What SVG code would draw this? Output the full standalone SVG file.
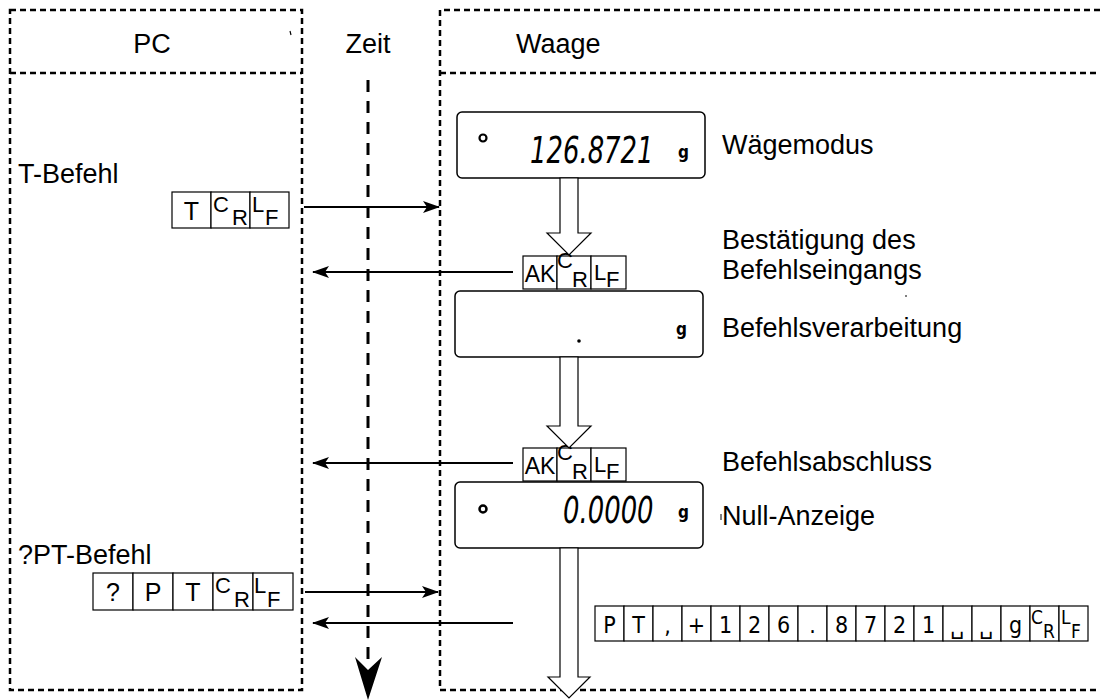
<svg xmlns="http://www.w3.org/2000/svg" width="1100" height="700" viewBox="0 0 1100 700">
<defs>
<style>
.frame{fill:none;stroke:#000;stroke-width:2.5;stroke-dasharray:6 4}
.axis{fill:none;stroke:#000;stroke-width:3;stroke-dasharray:12 9}
.lbl{font-family:"Liberation Sans",Arial,sans-serif;font-size:27px;fill:#000}
.cell{fill:#fff;stroke:#000;stroke-width:1.2}
.ct{font-family:"Liberation Sans",Arial,sans-serif;font-size:25px;fill:#000}
.cs{font-family:"Liberation Sans",Arial,sans-serif;font-size:22px;fill:#000}
.dt{font-family:"Liberation Sans Narrow","DejaVu Sans Condensed","Liberation Sans",sans-serif;font-size:23px;fill:#000;text-anchor:middle}
.ds{font-family:"Liberation Sans Narrow","DejaVu Sans Condensed","Liberation Sans",sans-serif;font-size:19px;fill:#000}
.sp{font-family:"DejaVu Sans",sans-serif;font-size:22px;fill:#000;text-anchor:middle}
.disp{fill:#fff;stroke:#000;stroke-width:1.5}
.seg{font-family:"DejaVu Sans",sans-serif;font-weight:200;font-style:italic;font-size:37px;fill:#000}
.gg{font-family:"DejaVu Sans Condensed","DejaVu Sans",sans-serif;font-weight:bold;font-size:17px;fill:#000}
.hollow{fill:#fff;stroke:#000;stroke-width:1.2}
.conn{fill:none;stroke:#000;stroke-width:2}
</style>
<marker id="ah" markerWidth="18" markerHeight="12" refX="16" refY="6" orient="auto" markerUnits="userSpaceOnUse">
<path d="M0,0 L17,6 L0,12 L4,6 Z" fill="#000"/>
</marker>
</defs>
<rect width="1100" height="700" fill="#fff"/>

<g id="pc-lane">
<rect class="frame" x="10" y="10" width="292" height="680"/>
<line class="frame" x1="10" y1="73" x2="302" y2="73"/>
<text class="lbl" x="152" y="53" text-anchor="middle">PC</text>
<line x1="290" y1="31" x2="291" y2="35" stroke="#000" stroke-width="1.2"/>
</g>

<g id="waage-lane">
<path class="frame" d="M1100,10 H440 V690 H1100"/>
<line class="frame" x1="440" y1="73" x2="1100" y2="73"/>
<text class="lbl" x="516" y="53">Waage</text>
</g>

<g id="time-axis">
<text class="lbl" x="368" y="53" text-anchor="middle">Zeit</text>
<line class="axis" x1="368" y1="80" x2="368" y2="668"/>
<path d="M355,657 L368,700 L382,657 L368,670 Z" fill="#000"/>
</g>

<g id="cmd-t">
<text class="lbl" x="18" y="183">T-Befehl</text>
<rect class="cell" x="172" y="192" width="39" height="36"/>
<rect class="cell" x="211" y="192" width="39" height="36"/>
<rect class="cell" x="250" y="192" width="39" height="36"/>
<text class="ct" x="191.5" y="220" text-anchor="middle">T</text>
<text class="cs" x="213" y="212">C</text>
<text class="cs" x="232" y="225">R</text>
<text class="cs" x="252" y="212">L</text>
<text class="cs" x="265" y="225">F</text>
</g>

<g id="cmd-pt">
<text class="lbl" x="18" y="564">?PT-Befehl</text>
<rect class="cell" x="93" y="573" width="40" height="37"/>
<rect class="cell" x="133" y="573" width="40" height="37"/>
<rect class="cell" x="173" y="573" width="40" height="37"/>
<rect class="cell" x="213" y="573" width="40" height="37"/>
<rect class="cell" x="253" y="573" width="40" height="37"/>
<text class="ct" x="113" y="601" text-anchor="middle">?</text>
<text class="ct" x="153" y="601" text-anchor="middle">P</text>
<text class="ct" x="193" y="601" text-anchor="middle">T</text>
<text class="cs" x="215" y="593">C</text>
<text class="cs" x="234" y="607">R</text>
<text class="cs" x="254" y="593">L</text>
<text class="cs" x="267" y="607">F</text>
</g>

<g id="display-1">
<rect class="disp" x="457" y="112" width="248" height="66" rx="5"/>
<circle cx="483" cy="138" r="3.5" fill="none" stroke="#000" stroke-width="2.2"/>
<text class="seg" transform="translate(530,163) scale(0.7,1)">126.8721</text>
<text class="gg" x="678" y="158">g</text>
<text class="lbl" x="722" y="154">Wägemodus</text>
</g>

<g id="ack-1">
<rect class="cell" x="523" y="256" width="34" height="33"/>
<rect class="cell" x="557" y="256" width="34" height="33"/>
<rect class="cell" x="591" y="256" width="35" height="33"/>
<text class="ct" x="540" y="282" text-anchor="middle" style="font-size:23px">AK</text>
<text class="cs" x="557" y="268">C</text>
<text class="cs" x="572" y="287">R</text>
<text class="cs" x="594" y="280">L</text>
<text class="cs" x="606" y="287">F</text>
<text class="lbl" x="722" y="249">Bestätigung des</text>
<text class="lbl" x="722" y="279">Befehlseingangs</text>
<line x1="906" y1="295" x2="906" y2="297" stroke="#000" stroke-width="1"/>
</g>

<g id="display-2">
<rect class="disp" x="455" y="291" width="248" height="66" rx="5"/>
<circle cx="579" cy="341" r="1.8" fill="#000"/>
<text class="gg" x="676" y="335">g</text>
<text class="lbl" x="722" y="337">Befehlsverarbeitung</text>
</g>

<g id="ack-2">
<rect class="cell" x="523" y="448" width="34" height="33"/>
<rect class="cell" x="557" y="448" width="34" height="33"/>
<rect class="cell" x="591" y="448" width="35" height="33"/>
<text class="ct" x="540" y="474" text-anchor="middle" style="font-size:23px">AK</text>
<text class="cs" x="557" y="460">C</text>
<text class="cs" x="572" y="479">R</text>
<text class="cs" x="594" y="472">L</text>
<text class="cs" x="606" y="479">F</text>
<text class="lbl" x="722" y="471">Befehlsabschluss</text>
</g>

<g id="display-3">
<rect class="disp" x="455" y="482" width="248" height="66" rx="5"/>
<circle cx="483" cy="509" r="3.5" fill="none" stroke="#000" stroke-width="2.5"/>
<text class="seg" transform="translate(563,523) scale(0.7,1)">0.0000</text>
<text class="gg" x="678" y="518">g</text>
<line x1="721" y1="514" x2="721" y2="520" stroke="#000" stroke-width="1"/>
<text class="lbl" x="722" y="525">Null-Anzeige</text>
</g>

<g id="data-output">
<rect class="cell" x="595" y="606" width="29" height="35"/>
<rect class="cell" x="624" y="606" width="29" height="35"/>
<rect class="cell" x="653" y="606" width="29" height="35"/>
<rect class="cell" x="682" y="606" width="29" height="35"/>
<rect class="cell" x="711" y="606" width="29" height="35"/>
<rect class="cell" x="740" y="606" width="29" height="35"/>
<rect class="cell" x="769" y="606" width="29" height="35"/>
<rect class="cell" x="798" y="606" width="29" height="35"/>
<rect class="cell" x="827" y="606" width="29" height="35"/>
<rect class="cell" x="856" y="606" width="29" height="35"/>
<rect class="cell" x="885" y="606" width="29" height="35"/>
<rect class="cell" x="914" y="606" width="29" height="35"/>
<rect class="cell" x="943" y="606" width="29" height="35"/>
<rect class="cell" x="972" y="606" width="29" height="35"/>
<rect class="cell" x="1001" y="606" width="29" height="35"/>
<rect class="cell" x="1030" y="606" width="29" height="35"/>
<rect class="cell" x="1059" y="606" width="29" height="35"/>
<text class="dt" x="609.5" y="633">P</text>
<text class="dt" x="638.5" y="633">T</text>
<text class="dt" x="667.5" y="633">,</text>
<text class="dt" x="696.5" y="633">+</text>
<text class="dt" x="725.5" y="633">1</text>
<text class="dt" x="754.5" y="633">2</text>
<text class="dt" x="783.5" y="633">6</text>
<text class="dt" x="812.5" y="633">.</text>
<text class="dt" x="841.5" y="633">8</text>
<text class="dt" x="870.5" y="633">7</text>
<text class="dt" x="899.5" y="633">2</text>
<text class="dt" x="928.5" y="633">1</text>
<text class="sp" x="957.5" y="634">␣</text>
<text class="sp" x="986.5" y="634">␣</text>
<text class="dt" x="1015.5" y="633">g</text>
<text class="ds" x="1031" y="624">C</text>
<text class="ds" x="1043" y="638">R</text>
<text class="ds" x="1061" y="624">L</text>
<text class="ds" x="1071" y="638">F</text>
</g>

<g id="state-arrows">
<polygon class="hollow" points="560,178 578,178 578,233 591,233 569,255 547,233 560,233"/>
<polygon class="hollow" points="560,357 578,357 578,426 591,426 569,448 547,426 560,426"/>
<polygon class="hollow" points="560,548 578,548 578,677 590,677 569,698 548,677 560,677"/>
</g>

<g id="connectors">
<line class="conn" x1="304" y1="207" x2="439" y2="207" marker-end="url(#ah)"/>
<line class="conn" x1="513" y1="272" x2="313" y2="272" marker-end="url(#ah)"/>
<line class="conn" x1="513" y1="463" x2="313" y2="463" marker-end="url(#ah)"/>
<line class="conn" x1="305" y1="592" x2="438" y2="592" marker-end="url(#ah)"/>
<line class="conn" x1="513" y1="623" x2="313" y2="623" marker-end="url(#ah)"/>
</g>
</svg>
